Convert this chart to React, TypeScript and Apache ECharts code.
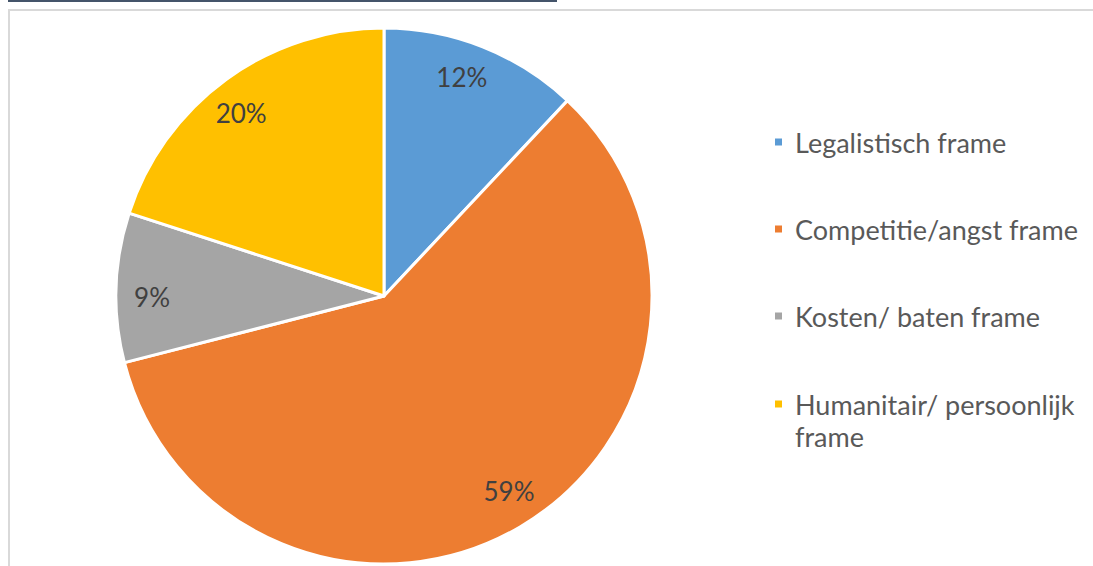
import React, { useEffect, useRef } from "react";
import * as echarts from "echarts";

const categories = [
  "Legalistisch frame",
  "Competitie/angst frame",
  "Kosten/ baten frame",
  "Humanitair/ persoonlijk frame",
];
const values = [12, 59, 9, 20];
const colors = ["#5B9BD5", "#ED7D31", "#A5A5A5", "#FFC000"];

const FONT = "Lato, 'Liberation Sans', sans-serif";

export default function App() {
  const ref = useRef<HTMLDivElement>(null);
  useEffect(() => {
    if (!ref.current) return;
    const chart = echarts.init(ref.current, undefined, { renderer: "svg" });
    const data = categories.map((name, i) => ({
      name,
      value: values[i],
      itemStyle: { color: colors[i] },
    }));
    const legendText = {
      color: "#595959",
      fontSize: 27,
      fontFamily: FONT,
      lineHeight: 32,
      width: 296,
      overflow: "break" as const,
      padding: [0, 0, 0, 7],
    };
    chart.setOption({
      animation: false,
      backgroundColor: "#ffffff",
      graphic: [
        {
          type: "rect",
          shape: { x: 8, y: 0, width: 549, height: 2 },
          style: { fill: "#44546A" },
          silent: true,
        },
        {
          type: "rect",
          shape: { x: 9, y: 10, width: 1200, height: 700 },
          style: { fill: "none", stroke: "#D9D9D9", lineWidth: 2 },
          silent: true,
        },
      ],
      legend: [
        {
          orient: "vertical",
          left: 773,
          top: 126,
          padding: 0,
          itemWidth: 9,
          itemHeight: 9,
          itemGap: 55,
          icon: "rect",
          selectedMode: false,
          textStyle: legendText,
          data: categories.slice(0, 3),
        },
        {
          orient: "vertical",
          left: 773,
          top: 356,
          padding: 0,
          itemWidth: 9,
          itemHeight: 9,
          icon: "rect",
          selectedMode: false,
          textStyle: legendText,
          formatter: (name: string) => "\n" + name,
          data: categories.slice(3),
        },
      ],
      series: [
        {
          type: "pie",
          center: [384, 296],
          radius: [0, 268],
          startAngle: 90,
          clockwise: true,
          avoidLabelOverlap: false,
          label: { show: false },
          labelLine: { show: false },
          itemStyle: { borderColor: "#ffffff", borderWidth: 3 },
          emphasis: { disabled: true },
          data,
        },
        {
          type: "pie",
          center: [384, 296],
          radius: [190, 268],
          startAngle: 92,
          clockwise: true,
          silent: true,
          avoidLabelOverlap: false,
          itemStyle: { color: "transparent", borderWidth: 0 },
          label: {
            show: true,
            position: "inside",
            formatter: "{c}%",
            color: "#404040",
            fontSize: 26,
            fontFamily: FONT,
            padding: [6, 0, 0, 0],
          },
          labelLine: { show: false },
          emphasis: { disabled: true },
          data: categories.map((name, i) => ({
            name,
            value: values[i],
            itemStyle: { color: "transparent" },
          })),
        },
      ],
    });
    return () => chart.dispose();
  }, []);
  return (
    <div
      ref={ref}
      style={{ position: "absolute", left: 0, top: 0, width: 1093, height: 566 }}
    />
  );
}
